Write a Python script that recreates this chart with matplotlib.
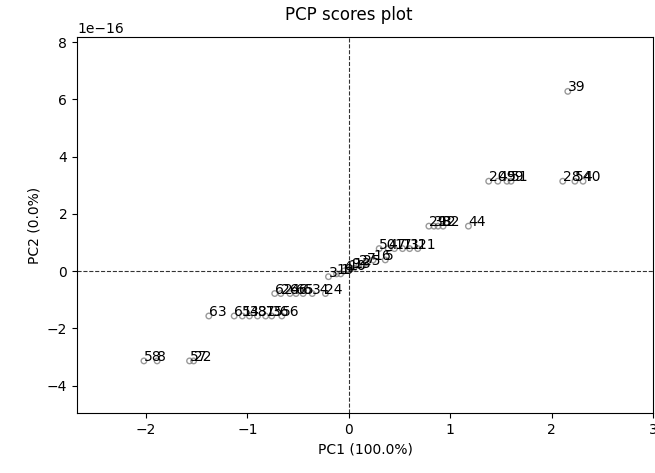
import numpy as np
import matplotlib
matplotlib.use('Agg')
import matplotlib.pyplot as plt

# sample labels and their scores on the first two principal components
labels = ['39',
          '20', '49', '59', '51', '28', '54', '40',
          '29', '38', '12', '32', '44',
          '50', '47', '17', '11', '31', '21',
          '16', '5',
          '3', '19', '4', '10', '13', '2', '25', '7', '1', '9',
          '62', '26', '46', '65', '6', '34', '24',
          '63', '61', '53', '48', '37', '15', '36', '56',
          '58', '8', '57', '22']

pc1 = [2.16,
       1.38, 1.47, 1.56, 1.60, 2.11, 2.23, 2.31,
       0.79, 0.84, 0.88, 0.93, 1.18,
       0.30, 0.39, 0.45, 0.53, 0.60, 0.68,
       0.24, 0.36,
       -0.20, -0.12, -0.05, 0.00, 0.05, 0.10, 0.14, 0.18, -0.08, 0.02,
       -0.73, -0.67, -0.58, -0.52, -0.45, -0.36, -0.23,
       -1.38, -1.13, -1.05, -0.98, -0.90, -0.82, -0.76, -0.66,
       -2.02, -1.89, -1.57, -1.53]

pc2 = [6.28,
       3.14, 3.14, 3.14, 3.14, 3.14, 3.14, 3.14,
       1.57, 1.57, 1.57, 1.57, 1.57,
       0.785, 0.785, 0.785, 0.785, 0.785, 0.785,
       0.39, 0.39,
       -0.196, -0.098, 0.0, 0.05, 0.098, 0.196, 0.196, 0.294, -0.098, 0.098,
       -0.785, -0.785, -0.785, -0.785, -0.785, -0.785, -0.785,
       -1.57, -1.57, -1.57, -1.57, -1.57, -1.57, -1.57, -1.57,
       -3.14, -3.14, -3.14, -3.14]
pc2 = [v * 1e-16 for v in pc2]

var_exp = [100.0, 0.0]

fig = plt.figure(figsize=(6.55, 4.73), dpi=100)
ax = fig.add_axes([77 / 655, 1 - 413 / 473, 576 / 655, 376 / 473])

ax.scatter(pc1, pc2, s=16, facecolors='none', edgecolors='grey', alpha=0.8)
for lab, x, y in zip(labels, pc1, pc2):
    ax.annotate(lab, (x, y))

ax.axhline(0, color='k', linestyle='--', linewidth=0.8, alpha=0.8)
ax.axvline(0, color='k', linestyle='--', linewidth=0.8, alpha=0.8)

ax.set_xlim(-2.68, 3.0)
ax.set_ylim(-4.96e-16, 8.18e-16)
fig.suptitle('PCP scores plot', x=348.5 / 655, y=1 - 15 / 473, va='center', fontsize=12)
ax.set_xlabel('PC1 (%.1f%%)' % var_exp[0])
ax.set_ylabel('PC2 (%.1f%%)' % var_exp[1])

fig.savefig('out.png', dpi=100)
